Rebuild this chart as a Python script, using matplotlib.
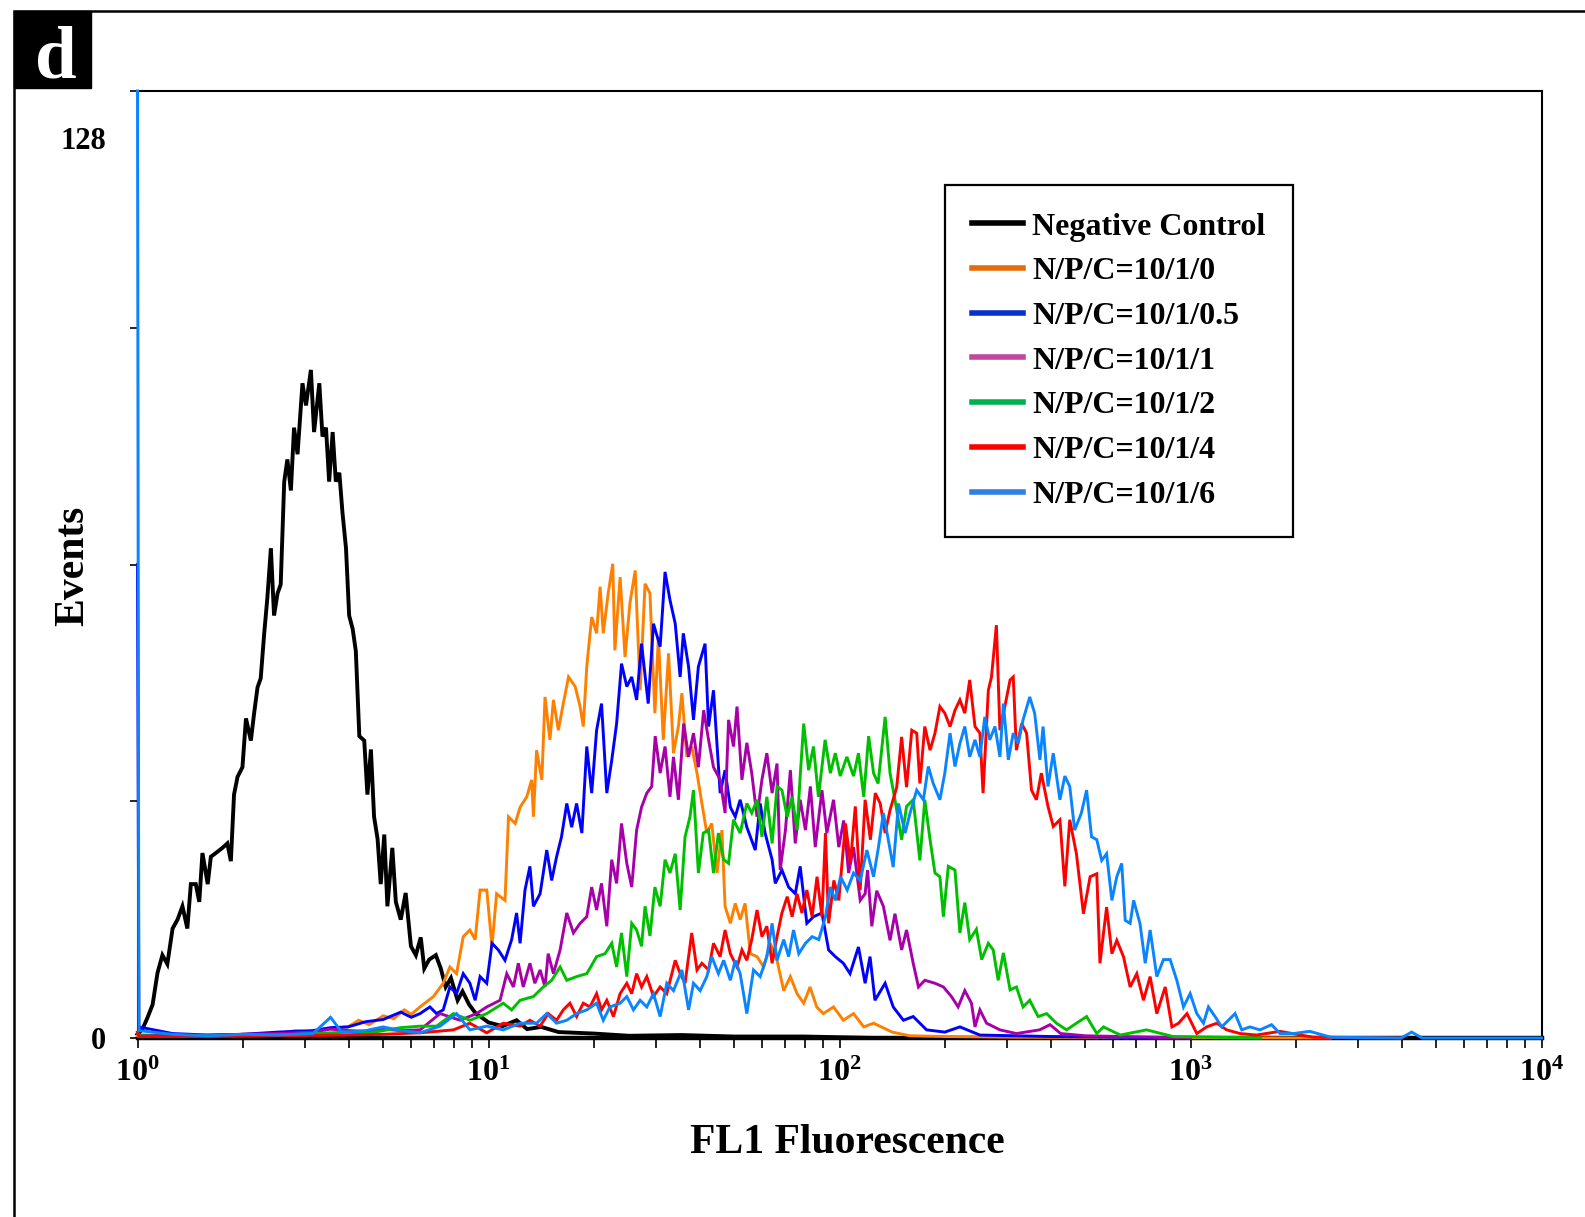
import numpy as np
import matplotlib
matplotlib.use("Agg")
import matplotlib.pyplot as plt
from matplotlib.lines import Line2D
from matplotlib.patches import Rectangle
from matplotlib.ticker import FixedLocator, FixedFormatter, LogLocator, NullFormatter

plt.rcParams['font.family'] = ['Liberation Serif', 'DejaVu Serif']
plt.rcParams['font.weight'] = 'bold'
plt.rcParams['mathtext.fontset'] = 'custom'
plt.rcParams['mathtext.bf'] = 'Liberation Serif:bold'
plt.rcParams['mathtext.rm'] = 'Liberation Serif:bold'

# histogram traces: (log10 FL1, events)
neg_control = [(0.0, 0.5), (0.014, 1.2), (0.028, 2.7), (0.043, 4.5), (0.057, 8.8), (0.071, 11.2),
               (0.085, 10.0), (0.100, 14.8), (0.114, 16.0), (0.128, 17.8), (0.142, 14.8), (0.152, 20.8),
               (0.166, 20.8), (0.176, 18.4), (0.185, 25.0), (0.200, 20.8), (0.209, 24.5), (0.223, 25.0),
               (0.242, 25.7), (0.256, 26.3), (0.266, 23.9), (0.275, 32.9), (0.285, 35.3), (0.299, 36.6),
               (0.309, 43.2), (0.323, 40.2), (0.332, 43.8), (0.342, 47.4), (0.351, 48.6), (0.361, 54.7),
               (0.370, 59.5), (0.380, 66.2), (0.389, 57.1), (0.399, 60.1), (0.408, 61.3), (0.418, 75.2),
               (0.427, 78.2), (0.437, 74.0), (0.446, 82.5), (0.456, 78.9), (0.470, 88.5), (0.480, 85.5),
               (0.494, 90.3), (0.503, 81.9), (0.518, 88.5), (0.527, 81.3), (0.537, 82.5), (0.546, 75.2),
               (0.556, 81.9), (0.565, 75.2), (0.575, 76.4), (0.584, 71.0), (0.594, 66.2), (0.603, 57.1),
               (0.613, 55.3), (0.622, 52.3), (0.632, 40.8), (0.646, 40.2), (0.655, 32.9), (0.665, 39.0),
               (0.674, 29.9), (0.684, 26.9), (0.693, 20.8), (0.703, 27.5), (0.712, 17.8), (0.726, 25.7),
               (0.736, 18.4), (0.750, 16.0), (0.764, 19.6), (0.779, 12.4), (0.793, 11.2), (0.807, 13.6),
               (0.817, 9.4), (0.831, 10.6), (0.850, 11.2), (0.864, 9.4), (0.878, 6.9), (0.893, 8.1),
               (0.912, 5.1), (0.926, 6.3), (0.945, 4.5), (0.964, 3.3), (0.983, 2.7), (1.000, 2.1),
               (1.04, 1.6), (1.08, 2.4), (1.11, 1.2), (1.15, 1.5), (1.2, 0.8), (1.3, 0.6), (1.4, 0.3),
               (1.55, 0.4), (1.7, 0.2), (1.9, 0.2), (2.1, 0.0)]

npc_0 = [(0.0, 0.3), (0.1, 0.2), (0.2, 0.4), (0.3, 0.5), (0.4, 0.6), (0.45, 1.0), (0.5, 0.8), (0.55, 1.3),
         (0.6, 1.5), (0.63, 2.4), (0.66, 1.8), (0.7, 3.0), (0.73, 2.6), (0.76, 3.8), (0.78, 3.2), (0.805, 4.2),
         (0.843, 5.6), (0.871, 7.4), (0.890, 9.6), (0.909, 8.7), (0.928, 13.7), (0.947, 14.6), (0.962, 13.3),
         (0.976, 20.0), (0.995, 20.0), (1.01, 12.4), (1.023, 19.5), (1.047, 18.6), (1.057, 29.9), (1.076, 29.0),
         (1.09, 31.2), (1.109, 32.6), (1.123, 34.9), (1.128, 29.9), (1.137, 38.9), (1.152, 34.9), (1.161, 46.1),
         (1.175, 40.3), (1.185, 45.7), (1.199, 41.6), (1.213, 45.2), (1.228, 48.8), (1.247, 47.5), (1.261, 44.8),
         (1.270, 42.1), (1.280, 50.2), (1.294, 56.9), (1.308, 54.7), (1.318, 61.0), (1.327, 54.7), (1.341, 60.1),
         (1.354, 64.1), (1.36, 52.4), (1.375, 62.3), (1.389, 51.5), (1.403, 58.8), (1.418, 63.2), (1.432, 47.0),
         (1.446, 61.4), (1.46, 60.1), (1.474, 43.9), (1.484, 54.2), (1.498, 40.3), (1.513, 52.0), (1.527, 38.5),
         (1.541, 42.1), (1.551, 46.6), (1.565, 38.0), (1.579, 39.4), (1.594, 35.8), (1.608, 31.7), (1.622, 27.7),
         (1.636, 29.0), (1.651, 22.3), (1.665, 28.1), (1.674, 17.8), (1.689, 15.5), (1.703, 18.2), (1.717, 16.0),
         (1.731, 18.2), (1.746, 11.4), (1.765, 11.0), (1.784, 9.6), (1.803, 12.8), (1.822, 10.5), (1.841, 6.4),
         (1.86, 8.3), (1.879, 6.0), (1.898, 4.7), (1.916, 6.9), (1.935, 4.2), (1.954, 3.3), (1.983, 4.2),
         (2.011, 2.4), (2.04, 3.3), (2.069, 1.5), (2.097, 2.0), (2.15, 0.8), (2.2, 0.3), (2.3, 0.2), (2.5, 0.1),
         (3.4, 0.0)]

npc_05 = [(0.0, 64.0), (0.004, 1.5), (0.1, 0.6), (0.2, 0.4), (0.3, 0.5), (0.4, 0.8), (0.5, 1.0), (0.55, 1.4),
          (0.6, 1.5), (0.65, 2.2), (0.7, 2.5), (0.75, 3.5), (0.78, 2.8), (0.805, 3.3), (0.833, 4.2), (0.852, 3.3),
          (0.871, 3.8), (0.890, 6.9), (0.909, 6.0), (0.928, 8.7), (0.947, 7.4), (0.962, 5.1), (0.976, 8.3),
          (0.995, 7.4), (1.01, 12.8), (1.028, 11.9), (1.047, 10.5), (1.066, 13.3), (1.080, 16.9), (1.09, 12.8),
          (1.104, 20.0), (1.118, 23.2), (1.128, 17.8), (1.147, 19.5), (1.166, 25.4), (1.18, 21.3), (1.194, 24.5),
          (1.208, 27.2), (1.223, 31.7), (1.237, 28.5), (1.251, 31.7), (1.266, 27.7), (1.280, 39.4), (1.294, 33.1),
          (1.308, 41.6), (1.322, 45.2), (1.337, 33.1), (1.351, 37.5), (1.365, 42.5), (1.379, 50.6), (1.394, 47.5),
          (1.408, 48.8), (1.422, 45.7), (1.436, 53.3), (1.455, 45.2), (1.47, 56.0), (1.489, 52.9), (1.503, 63.0),
          (1.517, 59.2), (1.532, 56.0), (1.546, 48.8), (1.555, 54.7), (1.57, 50.2), (1.584, 43.0), (1.598, 50.2),
          (1.617, 53.3), (1.627, 42.1), (1.641, 47.0), (1.66, 33.1), (1.674, 36.2), (1.689, 31.2), (1.703, 29.9),
          (1.717, 32.2), (1.736, 28.5), (1.76, 25.4), (1.774, 31.7), (1.788, 27.7), (1.808, 24.1), (1.817, 20.9),
          (1.836, 22.7), (1.855, 20.4), (1.874, 19.5), (1.888, 23.2), (1.907, 15.5), (1.926, 16.4), (1.95, 16.9),
          (1.969, 11.9), (1.988, 11.0), (2.011, 10.1), (2.03, 8.7), (2.054, 12.3), (2.073, 7.4), (2.087, 11.0),
          (2.101, 5.1), (2.13, 7.4), (2.153, 4.2), (2.182, 2.4), (2.21, 2.9), (2.248, 1.1), (2.3, 0.8),
          (2.343, 1.5), (2.4, 0.4), (2.6, 0.2), (3.0, 0.0)]

npc_1 = [(0.0, 0.8), (0.005, 0.4), (0.1, 0.3), (0.2, 0.2), (0.3, 0.5), (0.4, 0.6), (0.5, 0.8), (0.55, 1.2),
         (0.6, 1.0), (0.65, 0.9), (0.7, 1.2), (0.75, 1.0), (0.805, 1.1), (0.862, 3.3), (0.919, 2.4), (0.966, 3.3),
         (0.995, 4.2), (1.033, 5.1), (1.052, 8.7), (1.071, 6.9), (1.085, 10.1), (1.099, 6.9), (1.118, 10.1),
         (1.132, 7.4), (1.147, 9.2), (1.161, 6.9), (1.170, 11.4), (1.185, 8.7), (1.204, 11.9), (1.223, 16.9),
         (1.242, 14.2), (1.261, 15.5), (1.28, 16.4), (1.294, 20.4), (1.308, 17.3), (1.322, 20.9), (1.337, 15.1),
         (1.351, 24.1), (1.365, 20.9), (1.379, 29.0), (1.394, 23.6), (1.408, 20.4), (1.422, 28.1), (1.436, 31.2),
         (1.451, 33.1), (1.465, 34.0), (1.475, 40.8), (1.489, 35.8), (1.503, 39.4), (1.517, 32.6), (1.527, 38.0),
         (1.541, 32.2), (1.556, 42.5), (1.57, 38.0), (1.584, 41.2), (1.598, 36.6), (1.613, 44.3), (1.627, 40.3),
         (1.641, 36.6), (1.66, 34.9), (1.674, 30.4), (1.684, 43.0), (1.698, 39.4), (1.708, 44.8), (1.722, 34.9),
         (1.736, 39.9), (1.75, 35.8), (1.765, 29.9), (1.779, 34.9), (1.793, 38.5), (1.808, 33.1), (1.822, 37.1),
         (1.831, 22.7), (1.846, 28.1), (1.86, 36.2), (1.874, 26.3), (1.888, 32.2), (1.903, 28.1), (1.917, 34.0),
         (1.931, 25.8), (1.95, 33.5), (1.964, 27.7), (1.983, 32.2), (1.998, 25.8), (2.012, 29.4), (2.026, 22.3),
         (2.04, 25.8), (2.059, 18.6), (2.073, 19.5), (2.08, 22.7), (2.092, 15.1), (2.106, 19.9), (2.125, 17.8),
         (2.144, 13.2), (2.158, 16.8), (2.177, 11.9), (2.191, 14.6), (2.21, 10.1), (2.225, 6.9), (2.243, 7.8),
         (2.272, 7.4), (2.296, 6.9), (2.319, 5.6), (2.338, 4.2), (2.357, 6.4), (2.376, 4.7), (2.386, 1.5),
         (2.4, 3.8), (2.419, 2.0), (2.457, 1.1), (2.504, 0.6), (2.57, 1.1), (2.6, 1.8), (2.63, 0.6), (2.7, 0.3),
         (3.0, 0.0)]

npc_2 = [(0.0, 0.6), (0.005, 0.3), (0.1, 0.2), (0.2, 0.3), (0.3, 0.3), (0.4, 0.4), (0.5, 0.6), (0.6, 0.8),
         (0.65, 0.6), (0.7, 1.0), (0.75, 1.4), (0.805, 1.6), (0.852, 1.6), (0.9, 3.3), (0.947, 2.4), (0.995, 3.3),
         (1.042, 4.7), (1.066, 3.8), (1.09, 5.1), (1.128, 5.6), (1.156, 6.9), (1.18, 7.8), (1.204, 9.6),
         (1.223, 7.8), (1.251, 8.3), (1.28, 8.7), (1.308, 11.0), (1.332, 11.4), (1.351, 12.8), (1.365, 9.6),
         (1.379, 14.2), (1.394, 8.3), (1.408, 15.5), (1.422, 14.6), (1.436, 12.4), (1.446, 17.8), (1.46, 13.8),
         (1.474, 20.4), (1.489, 17.8), (1.503, 24.1), (1.517, 22.3), (1.532, 24.9), (1.546, 17.3), (1.56, 27.2),
         (1.574, 29.9), (1.584, 33.5), (1.598, 22.3), (1.612, 27.7), (1.627, 28.1), (1.641, 22.3), (1.655, 27.7),
         (1.67, 24.1), (1.684, 23.6), (1.698, 29.5), (1.717, 27.7), (1.736, 31.7), (1.75, 30.4), (1.765, 32.2),
         (1.779, 27.2), (1.793, 32.6), (1.808, 26.3), (1.822, 34.0), (1.836, 33.5), (1.851, 29.9), (1.865, 32.6),
         (1.879, 28.1), (1.888, 35.4), (1.898, 42.5), (1.912, 36.2), (1.926, 39.4), (1.94, 32.6), (1.959, 40.3),
         (1.974, 35.8), (1.988, 38.5), (2.002, 35.4), (2.021, 38.0), (2.04, 35.4), (2.054, 38.5), (2.069, 32.6),
         (2.083, 40.8), (2.097, 35.8), (2.11, 34.4), (2.13, 43.4), (2.144, 35.8), (2.158, 32.2), (2.177, 26.8),
         (2.191, 31.3), (2.21, 32.2), (2.229, 24.0), (2.243, 32.2), (2.258, 26.8), (2.272, 22.3), (2.286, 21.8),
         (2.296, 16.4), (2.31, 23.2), (2.329, 22.7), (2.343, 14.2), (2.357, 18.3), (2.371, 13.3), (2.39, 14.7),
         (2.405, 10.6), (2.424, 12.8), (2.438, 11.9), (2.452, 7.8), (2.467, 11.5), (2.486, 6.5), (2.504, 6.9),
         (2.523, 4.2), (2.542, 5.1), (2.566, 2.9), (2.59, 3.3), (2.618, 2.0), (2.647, 1.1), (2.675, 2.0),
         (2.704, 2.9), (2.733, 0.6), (2.752, 1.5), (2.8, 0.4), (2.875, 1.1), (2.95, 0.2), (3.2, 0.0)]

npc_4 = [(0.0, 0.6), (0.005, 0.2), (0.2, 0.2), (0.4, 0.3), (0.6, 0.4), (0.7, 0.5), (0.805, 0.7), (0.9, 1.1),
         (0.947, 2.0), (0.995, 0.7), (1.042, 2.0), (1.09, 1.6), (1.118, 2.4), (1.147, 1.6), (1.17, 3.3),
         (1.194, 2.4), (1.213, 3.8), (1.232, 4.7), (1.251, 2.9), (1.27, 4.7), (1.289, 4.2), (1.308, 6.0),
         (1.322, 3.8), (1.337, 5.1), (1.356, 2.9), (1.375, 6.0), (1.394, 7.4), (1.408, 6.0), (1.422, 8.7),
         (1.436, 6.9), (1.451, 8.3), (1.47, 5.6), (1.489, 6.9), (1.508, 6.0), (1.532, 10.5), (1.546, 8.7),
         (1.56, 7.4), (1.579, 14.2), (1.594, 9.2), (1.608, 10.1), (1.627, 9.2), (1.641, 12.8), (1.66, 11.0),
         (1.674, 14.6), (1.689, 11.4), (1.708, 9.6), (1.722, 11.9), (1.736, 10.5), (1.75, 13.3), (1.765, 17.3),
         (1.779, 13.7), (1.793, 15.1), (1.808, 10.1), (1.822, 13.7), (1.836, 16.9), (1.851, 19.1), (1.865, 16.4),
         (1.879, 19.5), (1.893, 16.9), (1.907, 20.0), (1.922, 16.4), (1.936, 21.8), (1.95, 16.4), (1.96, 27.7),
         (1.969, 15.5), (1.984, 21.3), (1.998, 18.6), (2.017, 29.0), (2.031, 23.6), (2.045, 31.3), (2.059, 20.0),
         (2.073, 32.2), (2.088, 26.8), (2.102, 33.1), (2.116, 31.7), (2.13, 27.7), (2.144, 30.8), (2.163, 33.9),
         (2.177, 40.7), (2.191, 33.9), (2.206, 41.6), (2.22, 41.2), (2.229, 34.4), (2.243, 42.1), (2.258, 38.9),
         (2.272, 41.2), (2.286, 44.8), (2.3, 43.9), (2.315, 42.1), (2.329, 44.3), (2.343, 45.7), (2.357, 43.9),
         (2.371, 48.4), (2.386, 42.1), (2.4, 41.2), (2.409, 33.1), (2.424, 47.0), (2.433, 48.8), (2.447, 55.8),
         (2.457, 41.6), (2.471, 44.8), (2.486, 48.4), (2.495, 48.8), (2.504, 38.9), (2.519, 42.5), (2.533, 41.2),
         (2.547, 33.5), (2.561, 32.2), (2.575, 35.8), (2.594, 31.3), (2.609, 28.6), (2.628, 29.5), (2.642, 20.5),
         (2.656, 29.5), (2.675, 24.9), (2.695, 16.8), (2.714, 21.8), (2.733, 22.2), (2.742, 10.1), (2.761, 17.7),
         (2.776, 11.4), (2.79, 13.2), (2.809, 11.0), (2.828, 6.9), (2.847, 8.7), (2.866, 5.1), (2.885, 8.3),
         (2.904, 3.3), (2.928, 6.9), (2.947, 1.5), (2.966, 2.0), (2.99, 3.3), (3.018, 0.6), (3.046, 1.5),
         (3.075, 2.0), (3.103, 1.1), (3.141, 0.6), (3.188, 0.4), (3.255, 0.9), (3.35, 0.1), (3.6, 0.0)]

npc_6 = [(0.0, 128.0), (0.004, 1.0), (0.1, 0.5), (0.2, 0.3), (0.3, 0.5), (0.4, 0.4), (0.5, 0.6), (0.55, 2.8),
         (0.58, 0.9), (0.6, 0.8), (0.65, 1.0), (0.7, 1.5), (0.75, 1.0), (0.805, 0.7), (0.862, 1.6), (0.909, 3.3),
         (0.947, 1.1), (0.995, 1.6), (1.042, 1.1), (1.09, 2.0), (1.137, 2.0), (1.166, 3.3), (1.194, 2.0),
         (1.223, 2.4), (1.251, 3.3), (1.28, 3.8), (1.308, 4.7), (1.327, 2.4), (1.346, 4.2), (1.375, 4.7),
         (1.394, 5.6), (1.413, 3.8), (1.432, 5.1), (1.451, 4.2), (1.47, 6.0), (1.489, 2.9), (1.508, 7.4),
         (1.527, 6.4), (1.551, 9.2), (1.57, 3.8), (1.584, 7.4), (1.603, 6.4), (1.622, 8.3), (1.636, 11.0),
         (1.655, 8.7), (1.67, 10.5), (1.689, 7.8), (1.703, 10.5), (1.717, 8.7), (1.736, 3.3), (1.755, 9.2),
         (1.774, 8.3), (1.793, 11.0), (1.808, 15.5), (1.822, 10.5), (1.841, 13.3), (1.855, 11.0), (1.869, 14.6),
         (1.884, 11.4), (1.903, 12.8), (1.922, 13.7), (1.941, 13.3), (1.96, 16.4), (1.974, 20.4), (1.988, 18.6),
         (2.003, 21.8), (2.022, 20.0), (2.04, 22.3), (2.059, 21.3), (2.078, 25.4), (2.097, 21.8), (2.111, 25.8),
         (2.125, 30.4), (2.139, 26.8), (2.153, 23.1), (2.168, 31.7), (2.187, 27.7), (2.201, 30.4), (2.22, 33.5),
         (2.239, 32.2), (2.253, 36.7), (2.267, 34.4), (2.286, 32.2), (2.3, 35.8), (2.315, 41.2), (2.329, 36.7),
         (2.343, 39.8), (2.357, 42.1), (2.371, 38.0), (2.386, 40.3), (2.4, 38.0), (2.414, 43.4), (2.428, 40.3),
         (2.443, 42.1), (2.457, 38.0), (2.467, 45.2), (2.481, 37.6), (2.495, 41.2), (2.509, 39.8), (2.523, 43.0),
         (2.542, 46.1), (2.556, 43.9), (2.571, 37.6), (2.58, 42.1), (2.594, 34.0), (2.609, 38.5), (2.628, 32.2),
         (2.642, 35.4), (2.656, 34.0), (2.67, 28.1), (2.689, 30.4), (2.704, 33.5), (2.718, 27.2), (2.733, 26.8),
         (2.747, 24.0), (2.761, 24.9), (2.776, 18.6), (2.79, 21.8), (2.804, 23.6), (2.814, 15.9), (2.828, 15.5),
         (2.838, 18.6), (2.856, 15.5), (2.871, 10.1), (2.885, 14.6), (2.904, 8.3), (2.923, 10.6), (2.942, 10.6),
         (2.961, 7.8), (2.98, 4.2), (2.999, 6.0), (3.018, 3.3), (3.037, 2.0), (3.051, 4.2), (3.07, 2.9),
         (3.089, 1.5), (3.108, 2.4), (3.127, 3.3), (3.146, 1.1), (3.169, 1.5), (3.198, 1.1), (3.231, 1.8),
         (3.255, 0.6), (3.293, 0.6), (3.34, 0.9), (3.4, 0.1), (3.6, 0.0), (3.63, 0.8), (3.66, 0.0), (4.0, 0.0)]

series = [neg_control, npc_0, npc_05, npc_1, npc_2, npc_4, npc_6]
labels = ["Negative Control", "N/P/C=10/1/0", "N/P/C=10/1/0.5", "N/P/C=10/1/1",
          "N/P/C=10/1/2", "N/P/C=10/1/4", "N/P/C=10/1/6"]
line_colors = ["#000000", "#FF8000", "#0000FF", "#A800A8", "#00BF00", "#FF0000", "#0A84FF"]
legend_colors = ["#000000", "#E46C0A", "#0A30CC", "#C0479E", "#00B050", "#FF0000", "#2F80E0"]
decades = [0, 1, 2, 3, 4]

W, H = 1585, 1217
fig = plt.figure(figsize=(W / 100, H / 100), dpi=100)
ax = fig.add_axes([137.5 / W, 1 - 1038 / H, 1404 / W, 947 / H])

for pts, c in zip(series, line_colors):
    lg, cnt = zip(*pts)
    ax.plot(10 ** np.array(lg), cnt, color=c, lw=2.8 if c == "#000000" else 2.1,
            solid_joinstyle='miter', zorder=3, clip_on=False)

ax.set_xscale('log')
ax.set_xlim(1, 1e4)
ax.set_ylim(0, 128)

ax.xaxis.set_major_locator(FixedLocator([10.0 ** d for d in decades]))
ax.xaxis.set_major_formatter(FixedFormatter([r'$\mathbf{10^{%d}}$' % d for d in decades]))
ax.xaxis.set_minor_locator(LogLocator(base=10, subs=np.arange(2, 10), numticks=20))
ax.xaxis.set_minor_formatter(NullFormatter())
ax.tick_params(axis='x', which='both', direction='out', length=7, width=1.2, pad=8,
               labelsize=23, top=False)

ax.set_yticks([0, 32, 64, 96, 128])
ax.set_yticklabels(['0', '', '', '', ''])
ax.tick_params(axis='y', which='both', direction='out', length=6, width=1.2, pad=17,
               labelsize=22, right=False)
ax.annotate('128', xy=(0, 0.947), xycoords='axes fraction', xytext=(-31, 0),
            textcoords='offset pixels', ha='right', va='center', fontsize=22, fontweight='bold')

for s in ['top', 'right', 'left']:
    ax.spines[s].set_linewidth(1.5)
ax.spines['bottom'].set_linewidth(3.2)

fig.text(847 / W, 1 - 1153 / H, 'FL1 Fluorescence', ha='center', va='baseline',
         fontsize=30, fontweight='bold')
fig.text(83 / W, 1 - 566 / H, 'Events', ha='center', va='baseline', rotation=90,
         rotation_mode='anchor', fontsize=30, fontweight='bold')

handles = [Line2D([], [], color=c, lw=4) for c in legend_colors]
leg = fig.legend(handles, labels, loc='upper left', bbox_to_anchor=(945 / W, 1 - 185 / H),
                 bbox_transform=fig.transFigure, borderaxespad=0, frameon=True, fancybox=False,
                 edgecolor='black', framealpha=1, prop=dict(family='Liberation Serif', weight='bold', size=23),
                 handlelength=1.6, handletextpad=0.28, labelspacing=0.48, borderpad=0.85)
leg.get_frame().set_linewidth(1.6)

# outer panel frame and the "d" tag
fig.add_artist(Rectangle((14 / W, -0.02), 1.05, 1 - 11 / H + 0.02, transform=fig.transFigure,
                         fill=False, edgecolor='black', lw=1.8, clip_on=False))
fig.add_artist(Rectangle((14 / W, 1 - 88 / H), 77 / W, 77 / H, transform=fig.transFigure,
                         facecolor='black', edgecolor='black', lw=1))
fig.text(56 / W, 1 - 77 / H, 'd', color='white', ha='center', va='baseline',
         fontsize=54, fontweight='bold')

fig.savefig('out.png', dpi=100)
